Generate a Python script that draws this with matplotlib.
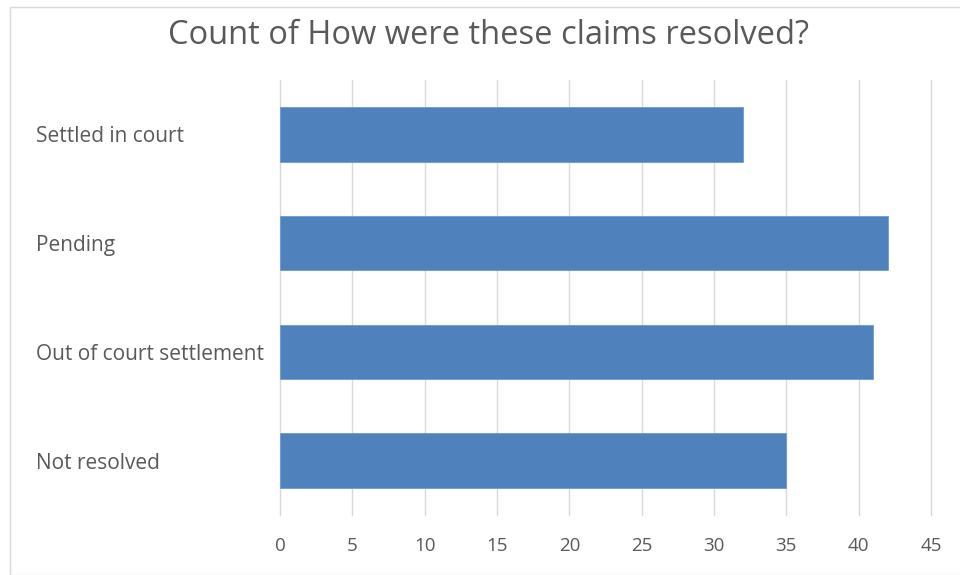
import matplotlib
matplotlib.use("Agg")
import matplotlib.pyplot as plt
from matplotlib.patches import Rectangle

categories = ["Settled in court", "Pending", "Out of court settlement", "Not resolved"]
counts = [32, 42, 41, 35]
xticks = [0, 5, 10, 15, 20, 25, 30, 35, 40, 45]
title = "Count of How were these claims resolved?"

plt.rcParams['font.family'] = ['Open Sans', 'DejaVu Sans']

fig = plt.figure(figsize=(9.6, 5.75), dpi=100)
fig.patch.set_facecolor('white')
# chart border
fig.patches.append(Rectangle((10/960, 0), 1.0, 1 - 7/575, transform=fig.transFigure,
                             fill=False, edgecolor='#D9D9D9', linewidth=1.0))

ax = fig.add_axes([280/960, 1 - 515/575, 651/960, 435/575])
ypos = list(range(len(categories)))
ax.barh(ypos, counts, height=0.5, color='#4F81BD', edgecolor='#6F9AD0', linewidth=0.6, zorder=3)
ax.set_ylim(len(categories) - 0.5, -0.5)
ax.set_xlim(0, 45)
ax.set_xticks(xticks)
ax.set_xticklabels([str(t) for t in xticks], fontsize=13.5, color='#595959')
ax.set_yticks(ypos)
ax.set_yticklabels(categories, fontsize=15, color='#595959')
for lab in ax.get_yticklabels():
    lab.set_ha('left')
ax.tick_params(axis='y', length=0, pad=(280 - 36) * 0.72)
ax.tick_params(axis='x', length=0, pad=16)
ax.grid(axis='x', color='#D9D9D9', linewidth=1.0, zorder=0)
for gl in ax.get_xgridlines():
    gl.set_clip_on(False)
for s in ax.spines.values():
    s.set_visible(False)

fig.text(488/960, 1 - 35/575, title, ha='center', va='center', fontsize=23.5, color='#595959')

fig.savefig("out.png", dpi=100)
